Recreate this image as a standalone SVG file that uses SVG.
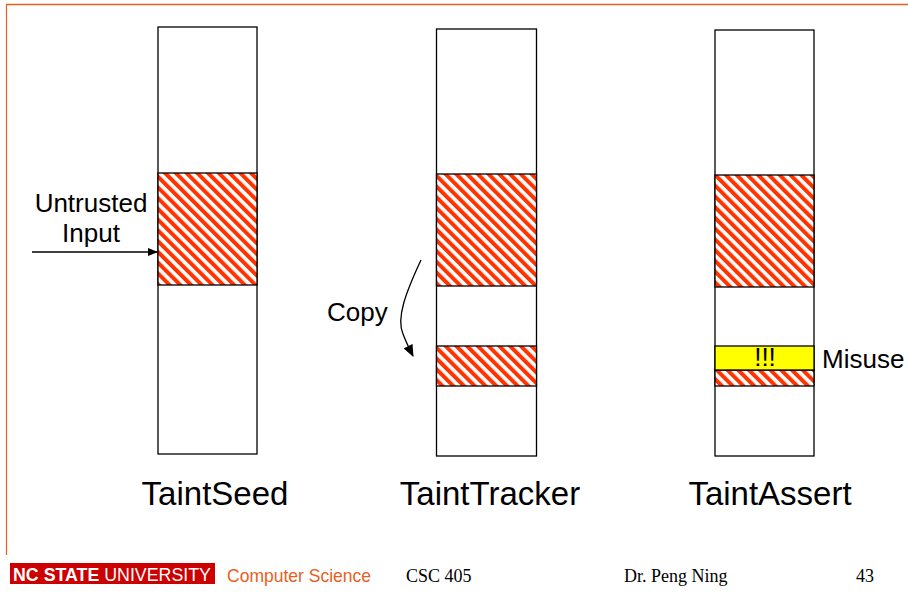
<svg xmlns="http://www.w3.org/2000/svg" width="908" height="600" viewBox="0 0 908 600">
<style>
.col{fill:#fff;stroke:#000;stroke-width:1.3}
.hat{fill:url(#hatch);stroke:#000;stroke-width:1.3}
.lab{font-family:"Liberation Sans",Arial,sans-serif;font-size:26px;fill:#000}
.big{font-family:"Liberation Sans",Arial,sans-serif;font-size:33px;fill:#000;text-anchor:middle}
.ft{font-family:"Liberation Serif","Times New Roman",serif;font-size:18px;fill:#000}
.conn{fill:none;stroke:#000;stroke-width:1.3}
</style>
<defs>
<pattern id="hatch" patternUnits="userSpaceOnUse" width="7.6" height="7.6" patternTransform="rotate(-45)">
<rect width="7.6" height="7.6" fill="#fff"/>
<rect width="4" height="7.6" fill="#FF3300"/>
</pattern>
<marker id="ah" markerWidth="10" markerHeight="8" refX="9" refY="4" orient="auto" markerUnits="userSpaceOnUse">
<path d="M0,0 L10,4 L0,8 Z" fill="#000"/>
</marker>
<marker id="ah2" markerWidth="12" markerHeight="10" refX="11" refY="5" orient="auto" markerUnits="userSpaceOnUse">
<path d="M0,0 L12,5 L0,10 Z" fill="#000"/>
</marker>
</defs>
<rect width="908" height="600" fill="#fff"/>
<g id="frame">
<line x1="6" y1="4.5" x2="908" y2="4.5" stroke="#E8601E" stroke-width="1.5"/>
<line x1="6.5" y1="4" x2="6.5" y2="555" stroke="#E8601E" stroke-width="1.2"/>
</g>
<g id="taintseed">
<rect class="col" x="158" y="27" width="99" height="427"/>
<rect class="hat" x="158" y="173" width="99" height="112"/>
<text class="big" x="215" y="505">TaintSeed</text>
</g>
<g id="tainttracker">
<rect class="col" x="436.5" y="29" width="100" height="427"/>
<rect class="hat" x="436.5" y="174" width="100" height="112"/>
<rect class="hat" x="436.5" y="346" width="100" height="40"/>
<text class="big" x="490" y="505">TaintTracker</text>
</g>
<g id="taintassert">
<rect class="col" x="715" y="30" width="99" height="426"/>
<rect class="hat" x="715" y="175" width="99" height="112"/>
<rect class="hat" x="715" y="370" width="99" height="16"/>
<rect x="715" y="346" width="99" height="24" fill="#FFFF00" stroke="#000" stroke-width="1.3"/>
<text class="lab" x="765" y="366" text-anchor="middle" font-size="21">!!!</text>
<text class="big" x="770" y="505">TaintAssert</text>
</g>
<g id="labels">
<text class="lab" x="91" y="212" text-anchor="middle">Untrusted</text>
<text class="lab" x="91" y="242" text-anchor="middle">Input</text>
<text class="lab" x="327" y="321">Copy</text>
<text class="lab" x="822" y="368">Misuse</text>
</g>
<g id="connectors">
<line class="conn" x1="32" y1="252" x2="157" y2="252" marker-end="url(#ah)"/>
<path class="conn" d="M421,260 C406,292 396,318 403,334 C406,342 409,348 413,356" marker-end="url(#ah2)"/>
</g>
<g id="footer">
<rect x="10" y="563" width="205" height="21" fill="#CC0000"/>
<text x="13" y="581" font-family="'Liberation Sans Narrow','Liberation Sans',Arial,sans-serif" font-size="19" fill="#fff" textLength="198" lengthAdjust="spacingAndGlyphs"><tspan font-weight="bold">NC STATE</tspan> UNIVERSITY</text>
<text x="227" y="582" font-family="'Liberation Sans',Arial,sans-serif" font-size="19" fill="#E8601E" textLength="144" lengthAdjust="spacingAndGlyphs">Computer Science</text>
<text class="ft" x="406" y="582">CSC 405</text>
<text class="ft" x="624" y="582">Dr. Peng Ning</text>
<text class="ft" x="856" y="582">43</text>
</g>
</svg>
